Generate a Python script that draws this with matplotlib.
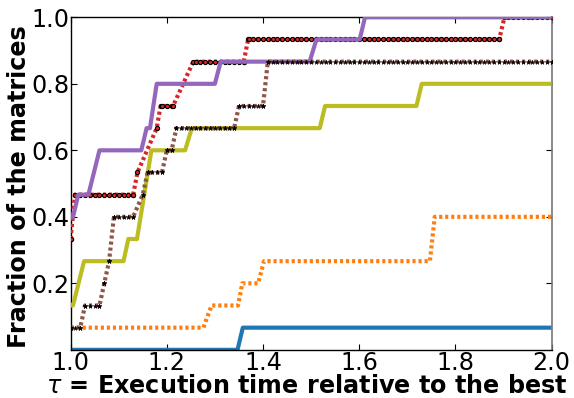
import numpy as np
import matplotlib
matplotlib.use("Agg")
import matplotlib.pyplot as plt

N_MATRICES = 15

# Performance profile vertices: tau values and number of matrices solved
tau_blue = [1.0, 1.347, 1.358, 2.0]
cnt_blue = [0, 0, 1, 1]

tau_orange = [1.0, 1.276, 1.293, 1.348, 1.357, 1.39, 1.402, 1.747, 1.757, 2.0]
cnt_orange = [1, 1, 2, 2, 3, 3, 4, 4, 6, 6]

tau_olive = [1.0, 1.005, 1.028, 1.11, 1.12, 1.138, 1.168, 1.238, 1.252,
             1.518, 1.529, 1.719, 1.73, 2.0]
cnt_olive = [2, 2, 4, 4, 5, 5, 9, 9, 10, 10, 11, 11, 12, 12]

tau_red = [1.0, 1.009, 1.13, 1.139, 1.179, 1.187, 1.213, 1.255, 1.36,
           1.369, 1.891, 1.902, 2.0]
cnt_red = [5, 7, 7, 8, 10, 11, 11, 13, 13, 14, 14, 15, 15]

tau_purple = [1.0, 1.005, 1.016, 1.037, 1.06, 1.147, 1.158, 1.165, 1.179,
              1.30, 1.312, 1.497, 1.511, 1.601, 1.612, 2.0]
cnt_purple = [6, 6, 7, 7, 9, 9, 10, 10, 12, 12, 13, 13, 14, 14, 15, 15]

tau_brown = [1.0, 1.02, 1.03, 1.06, 1.07, 1.08, 1.09, 1.13, 1.15, 1.16,
             1.19, 1.20, 1.21, 1.22, 1.34, 1.35, 1.40, 1.41, 2.0]
cnt_brown = [1, 1, 2, 2, 3, 4, 6, 6, 7, 8, 8, 9, 9, 10, 10, 11, 11, 13, 13]

x_ticks = [1.0, 1.2, 1.4, 1.6, 1.8, 2.0]
y_ticks = [0.2, 0.4, 0.6, 0.8, 1.0]

tau_grid = np.round(np.arange(1.0, 2.0001, 0.01), 2)


def marker_points(tau, cnt):
    """Sample points on flat parts of a profile plus its vertices."""
    tau = np.asarray(tau, float)
    cnt = np.asarray(cnt, float)
    vals = np.interp(tau_grid, tau, cnt)
    flat = np.abs(vals - np.round(vals)) < 1e-9
    xs = np.concatenate([tau_grid[flat], tau])
    ys = np.concatenate([vals[flat], cnt]) / N_MATRICES
    order = np.argsort(xs)
    return xs[order], ys[order]


fig = plt.figure(figsize=(5.74, 3.98), dpi=100)
ax = fig.add_axes([0.123, 0.121, 0.838, 0.8355])

lw = 3.0
dots = (0, (0.75, 0.7))

ax.plot(tau_blue, np.array(cnt_blue) / N_MATRICES, color="#1f77b4",
        lw=lw, solid_capstyle="butt", zorder=2)
ax.plot(tau_orange, np.array(cnt_orange) / N_MATRICES, color="#ff7f0e",
        lw=lw, linestyle=dots, zorder=2)
ax.plot(tau_olive, np.array(cnt_olive) / N_MATRICES, color="#bcbd22",
        lw=lw, solid_capstyle="butt", zorder=3)
ax.plot(tau_red, np.array(cnt_red) / N_MATRICES, color="#d62728",
        lw=lw, linestyle=dots, zorder=4)
mx, my = marker_points(tau_red, cnt_red)
ax.plot(mx, my, linestyle="none", marker="o", markersize=3.0,
        markerfacecolor="#d62728", markeredgecolor="black",
        markeredgewidth=0.8, zorder=4.5)
ax.plot(tau_purple, np.array(cnt_purple) / N_MATRICES, color="#9467bd",
        lw=lw, solid_capstyle="butt", zorder=5)
ax.plot(tau_brown, np.array(cnt_brown) / N_MATRICES, color="#8c564b",
        lw=lw, linestyle=dots, zorder=6)
mx, my = marker_points(tau_brown, cnt_brown)
ax.plot(mx, my, linestyle="none", marker="*", markersize=3.5,
        markerfacecolor="black", markeredgecolor="black",
        markeredgewidth=0.3, zorder=6.5)

ax.set_xlim(1.0, 2.0)
ax.set_ylim(0.0, 1.0)
ax.set_xticks(x_ticks)
ax.set_yticks(y_ticks)
ax.tick_params(direction="in", top=True, right=True, length=4, width=0.8,
               labelsize=17.2, pad=1)
for side in ("left", "top", "bottom"):
    ax.spines[side].set_color("black")
    ax.spines[side].set_linewidth(1.0)
ax.spines["right"].set_color("#777777")
ax.spines["right"].set_linewidth(1.2)

ax.set_xlabel(r"$\tau$ = Execution time relative to the best",
              fontsize=17.2, fontweight="bold")
ax.xaxis.set_label_coords(0.491, -0.072, transform=ax.transAxes)
ax.xaxis.label.set_va("top")
ax.set_ylabel("Fraction of the matrices", fontsize=17.2, fontweight="bold")
ax.yaxis.set_label_coords(-0.107, 0.49, transform=ax.transAxes)
ax.yaxis.label.set_va("center")

fig.savefig("out.png", dpi=100)
